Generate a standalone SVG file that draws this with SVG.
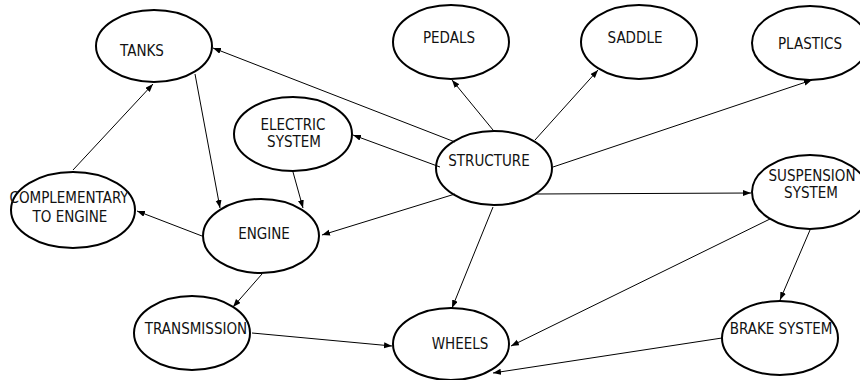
<svg xmlns="http://www.w3.org/2000/svg" width="860" height="380" viewBox="0 0 860 380">
<defs>
<marker id="arr" markerUnits="userSpaceOnUse" markerWidth="9" markerHeight="7" refX="8" refY="3" orient="auto">
<path d="M0,0 L8,3 L0,6 z" fill="#000"/>
</marker>
<style>
.n ellipse{fill:#fff;stroke:#000;stroke-width:2}
.n text{font-family:"DejaVu Sans Condensed","DejaVu Sans",sans-serif;font-stretch:condensed;font-size:15px;fill:#111;text-anchor:middle}
#connectors line{stroke:#000;stroke-width:1;marker-end:url(#arr)}
</style>
</defs>
<rect width="860" height="380" fill="#fff"/>
<g id="tanks" class="n"><ellipse cx="154" cy="46" rx="58" ry="36"/><text x="142" y="56">TANKS</text></g>
<g id="electric" class="n"><ellipse cx="293" cy="134" rx="59" ry="37"/><text x="293" y="130">ELECTRIC</text><text x="294" y="147">SYSTEM</text></g>
<g id="pedals" class="n"><ellipse cx="451" cy="42" rx="58" ry="37"/><text x="449" y="43">PEDALS</text></g>
<g id="saddle" class="n"><ellipse cx="639" cy="42" rx="58" ry="37"/><text x="635" y="43">SADDLE</text></g>
<g id="plastics" class="n"><ellipse cx="810" cy="43" rx="58" ry="37"/><text x="810" y="49">PLASTICS</text></g>
<g id="structure" class="n"><ellipse cx="494" cy="168" rx="58" ry="37"/><text x="489" y="166">STRUCTURE</text></g>
<g id="suspension" class="n"><ellipse cx="810" cy="192" rx="58" ry="37"/><text x="812" y="181">SUSPENSION</text><text x="811" y="198">SYSTEM</text></g>
<g id="complementary" class="n"><ellipse cx="73" cy="210" rx="62" ry="38"/><text x="69" y="203">COMPLEMENTARY</text><text x="70" y="222">TO ENGINE</text></g>
<g id="engine" class="n"><ellipse cx="261" cy="236" rx="58" ry="37"/><text x="264" y="239">ENGINE</text></g>
<g id="transmission" class="n"><ellipse cx="192" cy="333" rx="58" ry="37"/><text x="196" y="334">TRANSMISSION</text></g>
<g id="wheels" class="n"><ellipse cx="451" cy="344" rx="58" ry="36"/><text x="460" y="349">WHEELS</text></g>
<g id="brake" class="n"><ellipse cx="780" cy="338" rx="58" ry="37"/><text x="781" y="334">BRAKE SYSTEM</text></g>
<g id="connectors">
<line x1="455" y1="142" x2="213" y2="48"/>
<line x1="440" y1="167" x2="353" y2="135"/>
<line x1="493" y1="130" x2="452" y2="80"/>
<line x1="535" y1="140" x2="598" y2="70"/>
<line x1="553" y1="167" x2="812" y2="80"/>
<line x1="535" y1="194" x2="751" y2="193"/>
<line x1="455" y1="194" x2="322" y2="235"/>
<line x1="493" y1="207" x2="452" y2="308"/>
<line x1="195" y1="74" x2="220" y2="208"/>
<line x1="293" y1="172" x2="303" y2="208"/>
<line x1="73" y1="170" x2="153" y2="84"/>
<line x1="202" y1="236" x2="137" y2="211"/>
<line x1="262" y1="274" x2="233" y2="307"/>
<line x1="252" y1="333" x2="392" y2="346"/>
<line x1="770" y1="219" x2="511" y2="346"/>
<line x1="810" y1="230" x2="780" y2="300"/>
<line x1="722" y1="338" x2="493" y2="373"/>
</g>
</svg>
